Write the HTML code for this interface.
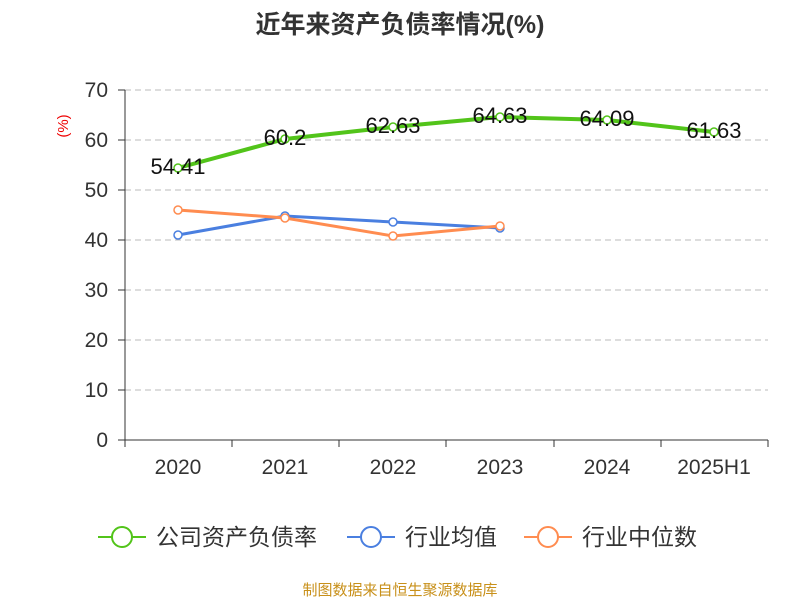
<!DOCTYPE html>
<html><head><meta charset="utf-8"><style>
body{margin:0;background:#fff;}
text{font-family:"Liberation Sans","Noto Sans CJK SC",sans-serif;}
</style></head><body>
<svg width="800" height="600" xmlns="http://www.w3.org/2000/svg">
<rect width="800" height="600" fill="#fff"/>
<text x="400" y="33" text-anchor="middle" font-size="25" font-weight="bold" fill="#333">近年来资产负债率情况(%)</text>
<text x="68" y="126" font-size="15" fill="#e00" transform="rotate(-90 68 126)" text-anchor="middle">(%)</text>
<g stroke="#bbb" stroke-dasharray="6,4" stroke-width="1">
<line x1="125" x2="768" y1="90" y2="90"/><line x1="125" x2="768" y1="140" y2="140"/>
<line x1="125" x2="768" y1="190" y2="190"/><line x1="125" x2="768" y1="240" y2="240"/>
<line x1="125" x2="768" y1="290" y2="290"/><line x1="125" x2="768" y1="340" y2="340"/>
<line x1="125" x2="768" y1="390" y2="390"/>
</g>
<g stroke="#333" stroke-width="1">
<line x1="125" x2="125" y1="90" y2="440"/>
<line x1="125" x2="768" y1="440" y2="440"/>
<line x1="118" x2="125" y1="90" y2="90"/><line x1="118" x2="125" y1="140" y2="140"/>
<line x1="118" x2="125" y1="190" y2="190"/><line x1="118" x2="125" y1="240" y2="240"/>
<line x1="118" x2="125" y1="290" y2="290"/><line x1="118" x2="125" y1="340" y2="340"/>
<line x1="118" x2="125" y1="390" y2="390"/><line x1="118" x2="125" y1="440" y2="440"/>
<line x1="125" x2="125" y1="440" y2="447"/><line x1="232" x2="232" y1="440" y2="447"/>
<line x1="339" x2="339" y1="440" y2="447"/><line x1="446" x2="446" y1="440" y2="447"/>
<line x1="554" x2="554" y1="440" y2="447"/><line x1="661" x2="661" y1="440" y2="447"/>
<line x1="768" x2="768" y1="440" y2="447"/>
</g>
<g font-size="21" fill="#333" text-anchor="end">
<text x="108" y="97">70</text><text x="108" y="147">60</text><text x="108" y="197">50</text>
<text x="108" y="247">40</text><text x="108" y="297">30</text><text x="108" y="347">20</text>
<text x="108" y="397">10</text><text x="108" y="447">0</text>
</g>
<g font-size="21" fill="#333" text-anchor="middle">
<text x="178" y="474">2020</text><text x="285" y="474">2021</text><text x="393" y="474">2022</text>
<text x="500" y="474">2023</text><text x="607" y="474">2024</text><text x="714" y="474">2025H1</text>
</g>
<polyline points="178,168 285,139 393,127 500,117 607,120 714,132" fill="none" stroke="#52c41a" stroke-width="4" stroke-linejoin="round"/>
<polyline points="178,235 285,216 393,222 500,228" fill="none" stroke="#4a7fe0" stroke-width="3"/>
<polyline points="178,210 285,218 393,236 500,226" fill="none" stroke="#ff8c50" stroke-width="3"/>
<g fill="#fff" stroke-width="1.5">
<g stroke="#52c41a"><circle cx="178" cy="168" r="4"/><circle cx="285" cy="139" r="4"/><circle cx="393" cy="127" r="4"/><circle cx="500" cy="117" r="4"/><circle cx="607" cy="120" r="4"/><circle cx="714" cy="132" r="4"/></g>
<g stroke="#4a7fe0"><circle cx="178" cy="235" r="4"/><circle cx="285" cy="216" r="4"/><circle cx="393" cy="222" r="4"/><circle cx="500" cy="228" r="4"/></g>
<g stroke="#ff8c50"><circle cx="178" cy="210" r="4"/><circle cx="285" cy="218" r="4"/><circle cx="393" cy="236" r="4"/><circle cx="500" cy="226" r="4"/></g>
</g>
<g font-size="22" fill="#111" text-anchor="middle">
<text x="178" y="174">54.41</text><text x="285" y="145">60.2</text><text x="393" y="133">62.63</text>
<text x="500" y="123">64.63</text><text x="607" y="126">64.09</text><text x="714" y="138">61.63</text>
</g>
<g stroke-width="2" fill="#fff">
<line x1="98" x2="146" y1="537" y2="537" stroke="#52c41a"/><circle cx="122" cy="537" r="10" stroke="#52c41a"/>
<line x1="347" x2="395" y1="537" y2="537" stroke="#4a7fe0"/><circle cx="371" cy="537" r="10" stroke="#4a7fe0"/>
<line x1="524" x2="572" y1="537" y2="537" stroke="#ff8c50"/><circle cx="548" cy="537" r="10" stroke="#ff8c50"/>
</g>
<g font-size="23" fill="#333">
<text x="156" y="545">公司资产负债率</text><text x="405" y="545">行业均值</text><text x="582" y="545">行业中位数</text>
</g>
<text x="400" y="595" text-anchor="middle" font-size="15" fill="#c8901a">制图数据来自恒生聚源数据库</text>
</svg>
</body></html>
